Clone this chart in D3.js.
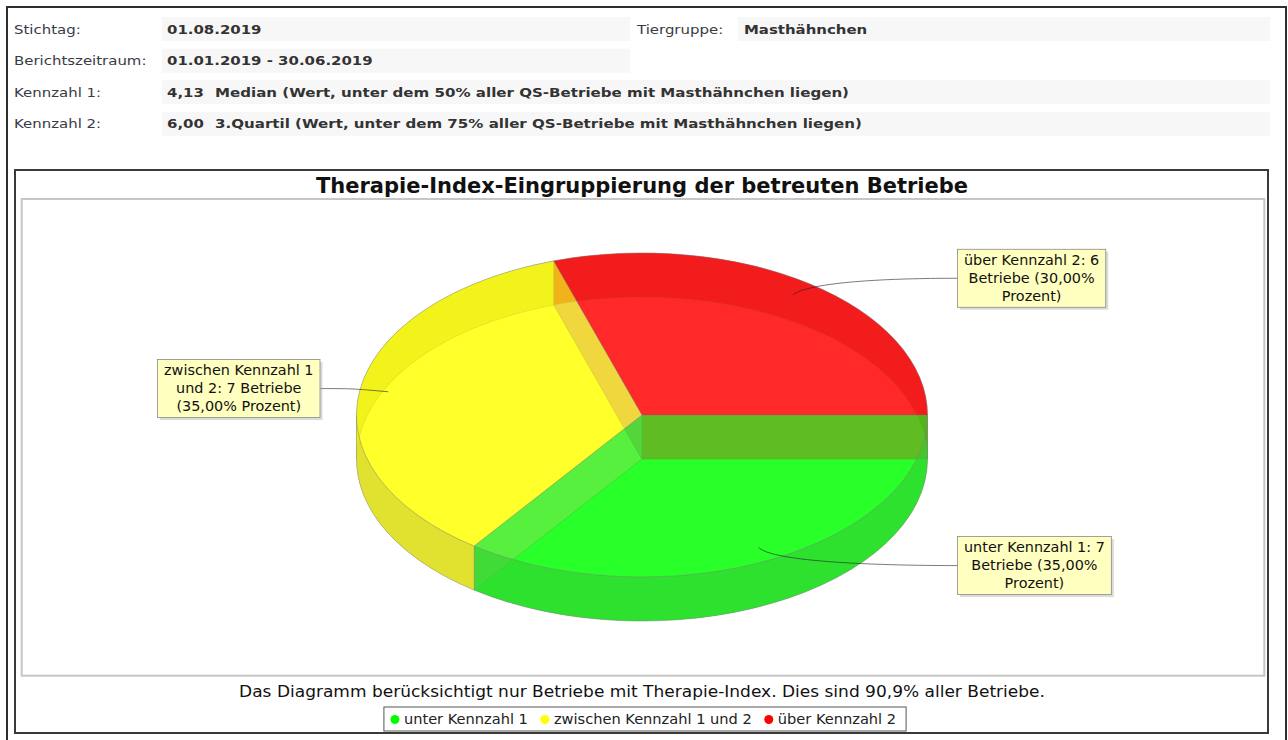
<!DOCTYPE html>
<html>
<head>
<meta charset="utf-8">
<script src="https://cdn.jsdelivr.net/npm/d3@7"></script>
<style>
  html, body { margin: 0; padding: 0; background: #fff; }
  svg { display: block; }
</style>
</head>
<body>
<svg id="chart" width="1288" height="740"></svg>
<script>
// ---- report header ----
const headerLabels = ["Stichtag:", "Berichtszeitraum:", "Kennzahl 1:", "Kennzahl 2:"];
const stichtag = "01.08.2019";
const berichtszeitraum = "01.01.2019 - 30.06.2019";
const kennzahlWerte = [4.13, 6.00];
const kennzahlTexte = [
  "Median (Wert, unter dem 50% aller QS-Betriebe mit Masthähnchen liegen)",
  "3.Quartil (Wert, unter dem 75% aller QS-Betriebe mit Masthähnchen liegen)"
];
const tiergruppeLabel = "Tiergruppe:";
const tiergruppe = "Masthähnchen";

// ---- chart data ----
const chartTitle = "Therapie-Index-Eingruppierung der betreuten Betriebe";
const categories = ["unter Kennzahl 1", "zwischen Kennzahl 1 und 2", "über Kennzahl 2"];
const betriebe = [7, 7, 6];
const sectionColors = ["#00ff00", "#ffff00", "#ff0000"];
const anteilMitIndex = 90.9;

const de = d3.formatLocale({ decimal: ",", thousands: ".", grouping: [3], currency: ["", " €"] });
const f2 = de.format(".2f"), f1 = de.format(".1f");

const FONT = "'DejaVu Sans', Verdana, sans-serif";
const svg = d3.select("#chart");

// page frame
svg.append("rect").attr("x", 7).attr("y", 7).attr("width", 1279).attr("height", 800)
  .attr("fill", "none").attr("stroke", "#2e2e2e").attr("stroke-width", 2);

// ---- header table ----
const header = svg.append("g").attr("font-family", FONT).attr("font-size", 13);
const rowY = i => 29 + i * 31.6;
const stretch = (x, y, k = 1.15) => `translate(${x},${y}) scale(${k},1)`;
const cellRight = [630, 630, 1270, 1270];

header.selectAll("rect.cell").data(headerLabels).join("rect")
  .attr("class", "cell")
  .attr("x", 162).attr("y", (d, i) => rowY(i) - 12)
  .attr("width", (d, i) => cellRight[i] - 162).attr("height", 24)
  .attr("fill", "#f7f7f7");
header.append("rect").attr("x", 738).attr("y", rowY(0) - 12)
  .attr("width", 532).attr("height", 24).attr("fill", "#f7f7f7");

header.selectAll("text.lbl").data(headerLabels).join("text")
  .attr("class", "lbl")
  .attr("transform", (d, i) => stretch(14, rowY(i) + 4.5))
  .attr("fill", "#3a3a46")
  .text(d => d);

const values = [stichtag, berichtszeitraum, f2(kennzahlWerte[0]), f2(kennzahlWerte[1])];
header.selectAll("text.val").data(values).join("text")
  .attr("class", "val")
  .attr("transform", (d, i) => stretch(167, rowY(i) + 4.5))
  .attr("font-weight", "bold").attr("fill", "#333")
  .text(d => d);
header.selectAll("text.kz").data(kennzahlTexte).join("text")
  .attr("class", "kz")
  .attr("transform", (d, i) => stretch(215, rowY(i + 2) + 4.5, 1.16))
  .attr("font-weight", "bold").attr("fill", "#333")
  .text(d => d);
header.append("text").attr("transform", stretch(637, rowY(0) + 4.5))
  .attr("fill", "#3a3a46").text(tiergruppeLabel);
header.append("text").attr("transform", stretch(744, rowY(0) + 4.5))
  .attr("font-weight", "bold").attr("fill", "#333").text(tiergruppe);

// ---- chart frame ----
const chart = svg.append("g").attr("font-family", FONT);
chart.append("rect").attr("x", 15).attr("y", 170).attr("width", 1253).attr("height", 563)
  .attr("fill", "#fff").attr("stroke", "#3a3a3a").attr("stroke-width", 2);
chart.append("rect").attr("x", 21.7).attr("y", 199).attr("width", 1242.6).attr("height", 476.7)
  .attr("fill", "#fff").attr("stroke", "#c6c6c6").attr("stroke-width", 2);

chart.append("text").attr("x", 642).attr("y", 192.5)
  .attr("text-anchor", "middle").attr("font-weight", "bold").attr("font-size", 21)
  .attr("fill", "#111").text(chartTitle);

// ---- 3D pie ----
const cx = 642, cy = 415, rx = 285.5, ry = 162, depth = 44;
const alpha = 0.6;
const outline = "#808080";

const pieGen = d3.pie().sort(null).startAngle(Math.PI / 2).endAngle(Math.PI / 2 + 2 * Math.PI);
const slices = pieGen(betriebe).map((a, i) => {
  // convert clockwise-from-12 angles into counter-clockwise-from-3 angles
  const hi = Math.PI / 2 - a.startAngle + 2 * Math.PI;
  const lo = Math.PI / 2 - a.endAngle + 2 * Math.PI;
  return { ...a, i, hi, lo, color: sectionColors[i] };
});

const P = (t, yc) => [cx + rx * Math.cos(t), yc - ry * Math.sin(t)];
const segPath = (yc, lo, hi) => {
  const a = P(hi, yc), b = P(lo, yc);
  const large = hi - lo > Math.PI ? 1 : 0;
  return `M${cx},${yc}L${a[0]},${a[1]}A${rx},${ry} 0 ${large} 1 ${b[0]},${b[1]}Z`;
};
const yB = cy + depth;

const pie = chart.append("g");
const shape = (d, fill) => pie.append("path").attr("d", d)
  .attr("fill", fill).attr("fill-opacity", alpha)
  .attr("stroke", outline).attr("stroke-width", 0.5).attr("stroke-opacity", alpha);

// bottom faces, each followed by the radial wall at its start angle
slices.forEach(s => {
  shape(segPath(yB, s.lo, s.hi), s.color);
  const t = s.hi % (2 * Math.PI);
  const p = P(t, yB);
  shape(`M${cx},${yB}L${cx},${cy}L${p[0]},${p[1] - depth}L${p[0]},${p[1]}Z`, "#c0c0c0");
});

// back and front bands of the cylinder
const backBand = `M${cx - rx},${cy}A${rx},${ry} 0 0 1 ${cx + rx},${cy}L${cx + rx},${yB}A${rx},${ry} 0 0 0 ${cx - rx},${yB}Z`;
const frontBand = `M${cx - rx},${cy}A${rx},${ry} 0 0 0 ${cx + rx},${cy}L${cx + rx},${yB}A${rx},${ry} 0 0 1 ${cx - rx},${yB}Z`;
pie.append("path").attr("d", backBand).attr("fill", "#808080").attr("fill-opacity", alpha);
pie.append("path").attr("d", frontBand).attr("fill", "#808080").attr("fill-opacity", alpha);

// curved sides of each section
const backSide = (lo, hi) => {
  const l = Math.max(lo, 0), h = Math.min(hi, Math.PI);
  if (h <= l) return null;
  const a = P(h, cy), b = P(l, cy), c = P(l, yB), d = P(h, yB);
  return `M${a[0]},${a[1]}A${rx},${ry} 0 0 1 ${b[0]},${b[1]}L${c[0]},${c[1]}A${rx},${ry} 0 0 0 ${d[0]},${d[1]}Z`;
};
const frontSide = (lo, hi) => {
  const l = Math.max(lo, Math.PI), h = Math.min(hi, 2 * Math.PI);
  if (h <= l) return null;
  const a = P(l, cy), b = P(h, cy), c = P(h, yB), d = P(l, yB);
  return `M${a[0]},${a[1]}A${rx},${ry} 0 0 0 ${b[0]},${b[1]}L${c[0]},${c[1]}A${rx},${ry} 0 0 1 ${d[0]},${d[1]}Z`;
};
slices.forEach(s => { const d = backSide(s.lo, s.hi); if (d) shape(d, s.color); });
slices.forEach(s => { const d = frontSide(s.lo, s.hi); if (d) shape(d, s.color); });

// top faces
slices.forEach(s => shape(segPath(cy, s.lo, s.hi), s.color));

// ---- section labels ----
const total = d3.sum(betriebe);
const labelFont = 14.4, lineH = 18, padX = 6.5, padY = 2;
const linkRx = rx + 7, linkRy = 169, linkPct = 0.9, linkRyPie = 165;
const labels = chart.append("g").attr("font-size", labelFont);

const measurer = labels.append("text").attr("visibility", "hidden");
const measure = s => { measurer.text(s); return measurer.node().getComputedTextLength(); };
const wrap = (text, maxW) => {
  const words = text.split(" "), lines = [];
  let cur = "";
  words.forEach(w => {
    const trial = cur ? cur + " " + w : w;
    if (cur && measure(trial) > maxW) { lines.push(cur); cur = w; } else cur = trial;
  });
  if (cur) lines.push(cur);
  return lines;
};

slices.forEach(s => {
  const mid = (s.lo + s.hi) / 2;
  const txt = `${categories[s.i]}: ${betriebe[s.i]} Betriebe (${f2(betriebe[s.i] / total * 100)}% Prozent)`;
  const lines = wrap(txt, 156);
  const bw = d3.max(lines, measure) + 2 * padX;
  const bh = lines.length * lineH + 2 * padY;
  const right = Math.cos(mid) >= 0;

  const linkX = cx + Math.cos(mid) * rx * linkPct;
  const linkY = cy - Math.sin(mid) * linkRyPie * linkPct;
  const elbowX = cx + Math.cos(mid) * linkRx;
  const elbowY = cy - Math.sin(mid) * linkRy;
  const anchorX = right ? cx + linkRx : cx - linkRx;
  const targetX = right ? anchorX + 23 : anchorX - 29.5;
  const targetY = elbowY;

  labels.append("path")
    .attr("d", `M${targetX},${targetY}C${anchorX},${elbowY} ${elbowX},${elbowY} ${linkX},${linkY}`)
    .attr("fill", "none").attr("stroke", "#222").attr("stroke-width", 0.6);

  const bx = right ? targetX : targetX - bw;
  const by = targetY - bh / 2;
  labels.append("rect").attr("x", bx + 2.5).attr("y", by + 2.5).attr("width", bw).attr("height", bh)
    .attr("fill", "#b0b0b0").attr("fill-opacity", 0.45);
  labels.append("rect").attr("x", bx).attr("y", by).attr("width", bw).attr("height", bh)
    .attr("fill", "#ffffc0").attr("stroke", "#8a8a8a").attr("stroke-width", 0.8);
  labels.append("g").selectAll("text").data(lines).join("text")
    .attr("x", bx + bw / 2).attr("y", (d, k) => by + padY + k * lineH + 13.5)
    .attr("text-anchor", "middle").attr("fill", "#111").text(d => d);
});
measurer.remove();

// ---- subtitle ----
chart.append("text").attr("transform", "translate(642,697) scale(1.12,1)")
  .attr("text-anchor", "middle").attr("font-size", 15.2).attr("fill", "#111")
  .text(`Das Diagramm berücksichtigt nur Betriebe mit Therapie-Index. Dies sind ${f1(anteilMitIndex)}% aller Betriebe.`);

// ---- legend ----
const legend = chart.append("g").attr("font-size", 14.6);
const legTexts = legend.selectAll("text").data(categories).join("text")
  .attr("y", 724).attr("fill", "#222").text(d => d);
const widths = legTexts.nodes().map(n => n.getComputedTextLength());
const itemW = widths.map(w => 9 + w);
const gap = 17, pad = 11;
const legW = pad + d3.sum(itemW) + gap * (categories.length - 1) + 10;
const legX = 645 - legW / 2;
let x = legX + pad;
const xs = itemW.map(w => { const s = x; x += w + gap; return s; });
legend.insert("rect", "text").attr("x", legX).attr("y", 707).attr("width", legW).attr("height", 24)
  .attr("fill", "#fff").attr("stroke", "#555").attr("stroke-width", 1);
legend.selectAll("circle").data(categories).join("circle")
  .attr("cx", (d, i) => xs[i]).attr("cy", 719.5).attr("r", 4.5)
  .attr("fill", (d, i) => sectionColors[i]);
legTexts.attr("x", (d, i) => xs[i] + 9);
</script>
</body>
</html>
